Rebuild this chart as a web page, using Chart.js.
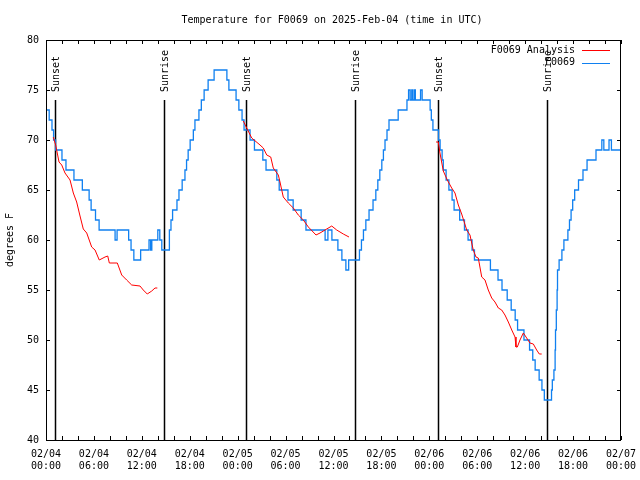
<!DOCTYPE html>
<html>
<head>
<meta charset="utf-8">
<script src="https://cdn.jsdelivr.net/npm/chart.js@4/dist/chart.umd.min.js"></script>
<style>
  body { margin: 0; background: #fff; }
  canvas { display: block; }
</style>
</head>
<body>
<canvas id="myChart" width="640" height="480"></canvas>
<script>
// hours since 02/04 00:00 UTC
const xTickHours = [0, 6, 12, 18, 24, 30, 36, 42, 48, 54, 60, 66, 72];
const xTickDates = ['02/04', '02/04', '02/04', '02/04', '02/05', '02/05', '02/05', '02/05', '02/06', '02/06', '02/06', '02/06', '02/07'];
const xTickTimes = ['00:00', '06:00', '12:00', '18:00', '00:00', '06:00', '12:00', '18:00', '00:00', '06:00', '12:00', '18:00', '00:00'];
const yTicks = [40, 45, 50, 55, 60, 65, 70, 75, 80];

const sunHours = [1.13, 14.78, 25.04, 38.69, 49.09, 62.74];
const sunLabels = ['Sunset', 'Sunrise', 'Sunset', 'Sunrise', 'Sunset', 'Sunrise'];

// observations (value holds until the next point)
const obsHours = [0, 0.4, 0.75, 0.95, 1.2, 2.0, 2.5, 3.5, 4.55, 5.4, 5.65, 6.2, 6.65, 8.65, 8.9, 10.35, 10.65, 11.0, 11.85, 12.9,
  13.1, 13.25, 14.0, 14.25, 14.5, 15.45, 15.65, 15.85, 16.4, 16.65, 17.05, 17.4, 17.6, 17.8, 18.05, 18.45, 18.65, 19.15, 19.45, 19.8,
  20.3, 21.05, 22.65, 22.9, 23.8, 24.15, 24.55, 24.8, 25.55, 26.1, 27.15, 27.55, 28.9, 29.2, 30.3, 30.95, 31.95, 32.55, 34.95, 35.3,
  35.8, 36.55, 37.05, 37.55, 37.9, 39.25, 39.5, 39.75, 40.05, 40.45, 40.95, 41.3, 41.55, 41.8, 42.05, 42.25, 42.45, 42.7, 42.95, 44.1,
  45.2, 45.4, 45.6, 45.8, 45.95, 46.15, 46.25, 46.9, 47.1, 48.1, 48.25, 48.45, 49.15, 49.35, 49.6, 49.75, 50.1, 50.45, 50.85, 51.1,
  51.8, 52.4, 52.85, 53.35, 53.65, 55.65, 56.6, 57.1, 57.75, 58.25, 58.75, 59.05, 59.85, 60.55, 60.95, 61.25, 61.75, 62.1, 62.4, 63.3,
  63.4, 63.6, 63.75, 63.8, 63.9, 64.0, 64.05, 64.25, 64.6, 64.85, 65.35, 65.55, 65.75, 65.95, 66.2, 66.68, 67.24, 67.75, 68.87, 69.6,
  69.85, 70.5, 70.8, 72];
const obsTemps = [73, 72, 71, 70, 69, 68, 67, 66, 65, 64, 63, 62, 61, 60, 61, 60, 59, 58, 59, 60,
  59, 60, 61, 60, 59, 61, 62, 63, 64, 65, 66, 67, 68, 69, 70, 71, 72, 73, 74, 75,
  76, 77, 76, 75, 74, 73, 72, 71, 70, 69, 68, 67, 66, 65, 64, 63, 62, 61, 60, 61,
  60, 59, 58, 57, 58, 59, 60, 61, 62, 63, 64, 65, 66, 67, 68, 69, 70, 71, 72, 73,
  74, 75, 74, 75, 74, 75, 74, 75, 74, 73, 72, 71, 70, 69, 68, 67, 66, 65, 64, 63,
  62, 61, 60, 59, 58, 57, 56, 55, 54, 53, 52, 51, 50, 49, 48, 47, 46, 45, 44, 45,
  46, 47, 49, 51, 53, 55, 57, 58, 59, 60, 61, 62, 63, 64, 65, 66, 67, 68, 69, 70,
  69, 70, 69, 69];

// analysis (null = gap)
const anaHours = [0.91, 1.21, 1.63, 1.97, 2.38, 3.01, 3.42, 3.84, 4.26, 4.67, 5.10, 5.72, 6.14, 6.67, 7.39, 7.73, 7.93, 8.93, 9.48, 10.1,
  10.73, 11.77, 12.18, 12.68, 13.24, 13.65, 13.94, 19,
  24.71, 25.13, 25.76, 26.8, 27.21, 27.64, 28.14, 28.46, 29.09, 29.3, 29.71, 30.34, 30.97, 31.59, 32.22, 32.85, 33.81, 34.31, 34.94, 35.78,
  36.4, 37.23, 37.94, 43,
  48.84, 49.12, 49.33, 49.75, 50.25, 50.8, 51.21, 51.63, 52.05, 52.68, 53.09, 53.5, 53.84, 54.13, 54.56, 54.97, 55.38, 55.81, 56.22, 56.64,
  57.06, 57.47, 57.89, 58.32, 58.73, 58.85, 59.02, 59.35, 59.77, 60.19, 60.6, 61.02, 61.44, 61.77, 62.07];
const anaTemps = [70.3, 69.5, 67.8, 67.5, 66.7, 66, 64.7, 63.8, 62.4, 61.1, 60.7, 59.3, 59, 58, 58.3, 58.4, 57.7, 57.7, 56.5, 56,
  55.5, 55.4, 55, 54.6, 54.9, 55.2, 55.2, null,
  71.9, 71.2, 70.2, 69.5, 69.2, 68.5, 68.3, 67.2, 66.5, 65.8, 64.3, 63.7, 63.2, 62.5, 62, 61.3, 60.5, 60.7, 61, 61.4,
  61, 60.6, 60.3, null,
  69.8, 69.8, 68.7, 66.9, 66, 65.2, 64.7, 63.5, 62.6, 61, 60.5, 59, 58.3, 58.2, 56.3, 56, 55, 54.2, 53.8, 53.2,
  53, 52.5, 51.8, 51, 50.3, 49.3, 49.3, 50, 50.7, 50.2, 49.7, 49.6, 49, 48.6, 48.6];

const FONT = '"DejaVu Sans Mono", "Liberation Mono", monospace';
const RED = '#ff0000';
const BLUE = '#1080f0';

const overlay = {
  id: 'overlay',
  beforeDraw(chart) {
    const c = chart.ctx;
    c.save();
    c.fillStyle = '#fff';
    c.fillRect(0, 0, chart.width, chart.height);
    c.fillStyle = '#000';
    c.font = '10px ' + FONT;
    c.textAlign = 'center';
    c.textBaseline = 'middle';
    c.fillText('Temperature for F0069 on 2025-Feb-04 (time in UTC)', 332, 20);
    c.restore();
  },
  beforeDatasetsDraw(chart) {
    const c = chart.ctx;
    const { top, bottom } = chart.chartArea;
    const xs = chart.scales.x;
    c.save();
    c.strokeStyle = '#000';
    c.fillStyle = '#000';
    c.lineWidth = 1.5;
    c.font = '10px ' + FONT;
    sunHours.forEach((h, i) => {
      const x = Math.round(xs.getPixelForValue(h)) + 0.5;
      c.beginPath();
      c.moveTo(x, top + 60);
      c.lineTo(x, bottom);
      c.stroke();
      c.save();
      c.translate(x + 1, top + 52);
      c.rotate(-Math.PI / 2);
      c.textAlign = 'left';
      c.textBaseline = 'middle';
      c.fillText(sunLabels[i], 0, 0);
      c.restore();
    });
    c.restore();
  },
  afterDatasetsDraw(chart) {
    const c = chart.ctx;
    const { left, right, top, bottom } = chart.chartArea;
    const xs = chart.scales.x;
    const ys = chart.scales.y;
    c.save();
    c.strokeStyle = '#000';
    c.lineWidth = 1;
    // frame
    c.strokeRect(left + 0.5, top + 0.5, right - left - 1, bottom - top);
    // x ticks every 2 h, inside, bottom and top
    c.beginPath();
    for (let h = 0; h <= 72; h += 2) {
      const x = Math.round(xs.getPixelForValue(h)) + 0.5;
      c.moveTo(x, bottom);
      c.lineTo(x, bottom - 4);
      c.moveTo(x, top);
      c.lineTo(x, top + 4);
    }
    yTicks.forEach(v => {
      const y = Math.round(ys.getPixelForValue(v)) + 0.5;
      c.moveTo(left, y);
      c.lineTo(left + 4, y);
      c.moveTo(right, y);
      c.lineTo(right - 4, y);
    });
    c.stroke();
    // legend
    c.font = '10px ' + FONT;
    c.fillStyle = '#000';
    c.textAlign = 'right';
    c.textBaseline = 'middle';
    chart.data.datasets.forEach((ds, i) => {
      const y = top + 10 + i * 12.5;
      c.fillText(ds.label, 575, y);
      c.strokeStyle = ds.borderColor;
      c.lineWidth = 1;
      c.beginPath();
      c.moveTo(582, Math.round(y) + 0.5);
      c.lineTo(610, Math.round(y) + 0.5);
      c.stroke();
    });
    c.restore();
  }
};

const ctx = document.getElementById('myChart').getContext('2d');
new Chart(ctx, {
  type: 'line',
  data: {
    datasets: [
      {
        label: 'F0069 Analysis',
        data: anaHours.map((h, i) => ({ x: h, y: anaTemps[i] })),
        borderColor: RED,
        borderWidth: 1,
        pointRadius: 0,
        spanGaps: false,
        tension: 0
      },
      {
        label: 'F0069',
        data: obsHours.map((h, i) => ({ x: h, y: obsTemps[i] })),
        borderColor: BLUE,
        borderWidth: 1.3,
        pointRadius: 0,
        stepped: true
      }
    ]
  },
  options: {
    responsive: false,
    animation: false,
    layout: { padding: { top: 40, right: 19, left: 0, bottom: 0 } },
    plugins: {
      legend: { display: false },
      title: { display: false },
      tooltip: { enabled: false }
    },
    scales: {
      x: {
        type: 'linear',
        min: 0,
        max: 72,
        afterFit(s) {
          s.height = 40;
          s.paddingLeft = 0;
          s.paddingRight = 0;
        },
        afterBuildTicks(s) { s.ticks = xTickHours.map(v => ({ value: v })); },
        grid: { display: false, drawTicks: false },
        border: { display: false },
        ticks: {
          autoSkip: false,
          maxRotation: 0,
          padding: 8,
          color: '#000',
          font: { family: FONT, size: 10, lineHeight: 1.2 },
          callback(v) {
            const i = xTickHours.indexOf(v);
            return i < 0 ? '' : [xTickDates[i], xTickTimes[i]];
          }
        }
      },
      y: {
        min: 40,
        max: 80,
        afterFit(s) {
          s.width = 46;
          s.paddingTop = 0;
          s.paddingBottom = 0;
        },
        afterBuildTicks(s) { s.ticks = yTicks.map(v => ({ value: v })); },
        grid: { display: false, drawTicks: false },
        border: { display: false },
        ticks: {
          padding: 7,
          color: '#000',
          font: { family: FONT, size: 10 }
        },
        title: {
          display: true,
          text: 'degrees F',
          color: '#000',
          font: { family: FONT, size: 10 },
          padding: { top: 4, bottom: 0 }
        }
      }
    }
  },
  plugins: [overlay]
});
</script>
</body>
</html>
